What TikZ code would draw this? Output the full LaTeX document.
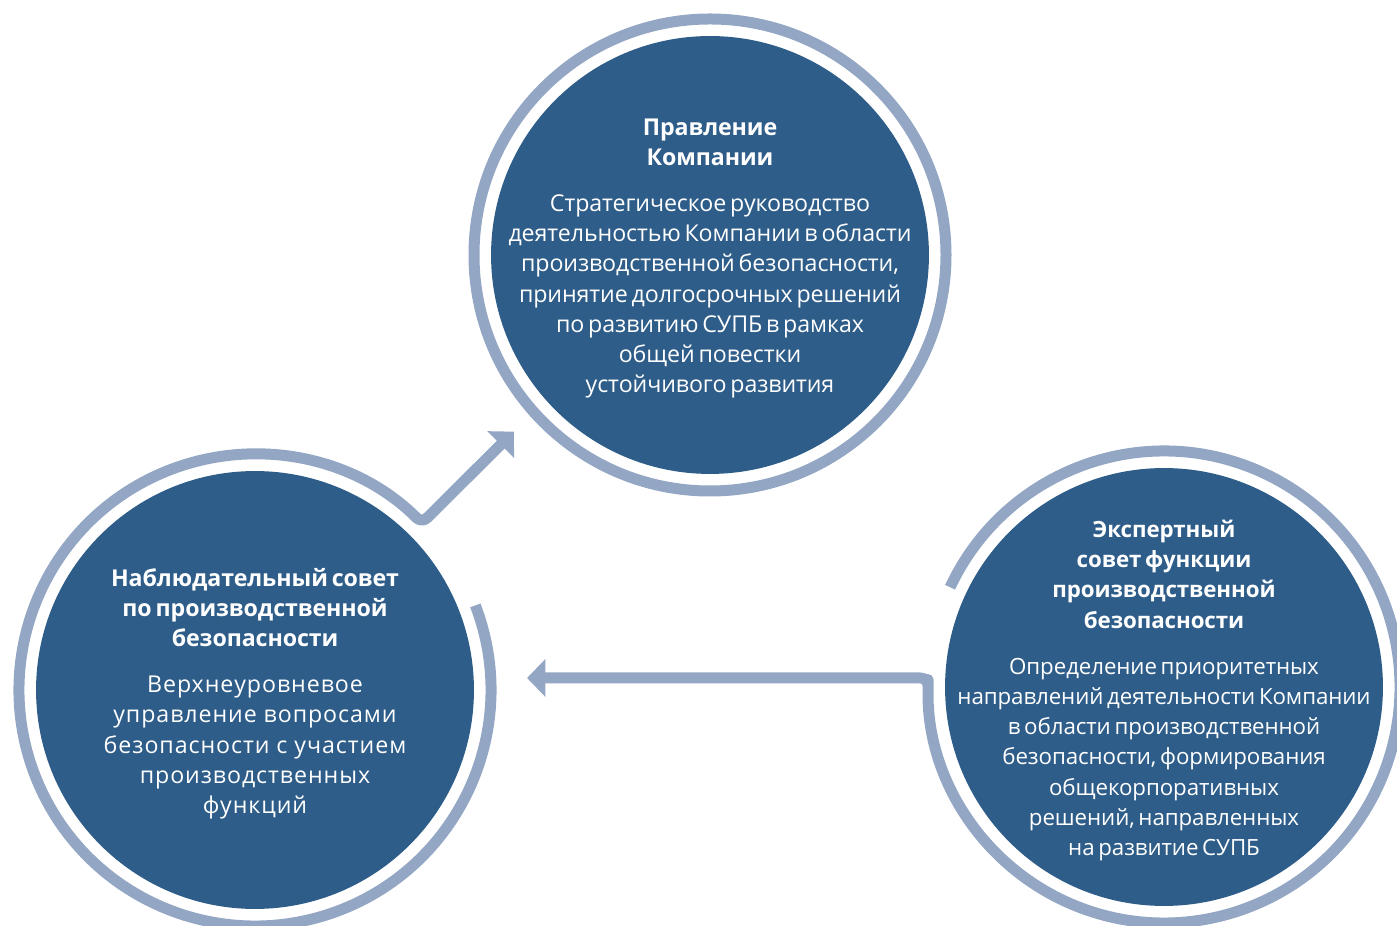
\documentclass[tikz,border=0pt]{standalone}
\usepackage{fontspec}
\setmainfont{Open Sans}[WordSpace=0.65,LetterSpace=-0.4]
\newfontfamily\wide{Open Sans}[LetterSpace=4]
\usepackage{tikz}
\usetikzlibrary{arrows.meta,calc}
\definecolor{circlebg}{HTML}{2E5D89}
\definecolor{ringline}{HTML}{93A6C4}
\tikzset{
disc/.style={circle,fill=circlebg,minimum size=8.76cm,inner sep=0pt},
disctext/.style={text=white,align=center,yshift=-2pt,font=\fontsize{13.2}{17.2}\selectfont},
ring/.style={draw=ringline,line width=0.22cm,rounded corners=0.15cm,line join=round},
ringtip/.style={-{Triangle[angle=90:0.52cm]}}
}
\begin{document}
\begin{tikzpicture}[x=0.02cm,y=0.02cm]
\useasboundingbox(0,0)rectangle(1397,926);
\node[disc](board)at(710,671){};
\node[disc](nabl)at(255,236){};
\node[disc](expt)at(1164,239){};
\coordinate(tipA)at($(board)+(222:264)$);
\coordinate(tipB)at($(nabl)+(272,12)$);
\draw[ring](board)circle[radius=236];
\draw[ring,ringtip]($(nabl)+(21:236)$)arc[start angle=21,end angle=-315,radius=236]--(tipA);
\draw[ring,ringtip]($(expt)+(155:236)$)arc[start angle=155,end angle=-180,radius=236]|-(tipB);
\node[disctext](board-t)at(board){\textbf{Правление}\\\textbf{Компании}\\[9pt]
Стратегическое руководство\\деятельностью Компании в области\\производственной безопасности,\\
принятие долгосрочных решений\\по развитию СУПБ в рамках\\общей повестки\\устойчивого развития};
\node[disctext](nabl-t)at(nabl){\textbf{Наблюдательный совет}\\\textbf{по производственной}\\\textbf{безопасности}\\[9pt]
\wide Верхнеуровневое\\\wide управление вопросами\\\wide безопасности с участием\\\wide производственных\\\wide функций};
\node[disctext,font=\fontsize{12.7}{17.2}\selectfont](expt-t)at(expt){\textbf{Экспертный}\\\textbf{совет функции}\\\textbf{производственной}\\\textbf{безопасности}\\[9pt]
Определение приоритетных\\направлений деятельности Компании\\в области производственной\\безопасности, формирования\\
общекорпоративных\\решений, направленных\\на развитие СУПБ};
\end{tikzpicture}
\end{document}
